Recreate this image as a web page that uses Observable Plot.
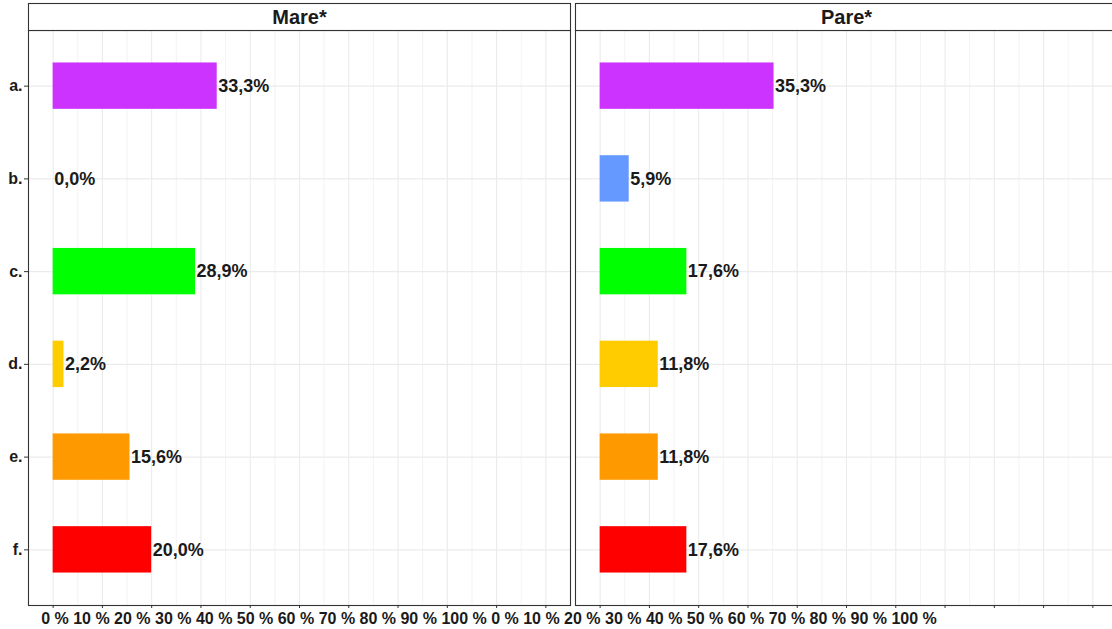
<!DOCTYPE html>
<html>
<head>
<meta charset="utf-8">
<script src="https://cdn.jsdelivr.net/npm/d3@7"></script>
<script src="https://cdn.jsdelivr.net/npm/@observablehq/plot@0.6"></script>
<style>
  html, body { margin: 0; padding: 0; background: #fff; overflow: hidden; }
  #chart { width: 1112px; height: 629px; overflow: hidden; }
  #chart svg { display: block; max-width: none !important; height: 629px !important; }
</style>
</head>
<body>
<div id="chart"></div>
<script>
// ---- data ----
const categories = ["a.", "b.", "c.", "d.", "e.", "f."];
const panels = ["Mare*", "Pare*"];
const mareValues = [33.3, 0.0, 28.9, 2.2, 15.6, 20.0];
const pareValues = [35.3, 5.9, 17.6, 11.8, 11.8, 17.6];
const barColors = ["#CC33FF", "#6699FF", "#00FF00", "#FFCC00", "#FF9900", "#FF0000"];
const xTicks = [0, 10, 20, 30, 40, 50, 60, 70, 80, 90, 100];
const xMinorTicks = [5, 15, 25, 35, 45, 55, 65, 75, 85, 95];
const xTickLabels = [
  "0 %", "10 %", "20 %", "30 %", "40 %", "50 %", "60 %", "70 %", "80 %", "90 %", "100 %",
  "0 %", "10 %", "20 %", "30 %", "40 %", "50 %", "60 %", "70 %", "80 %", "90 %", "100 %"
];

// table built from the arrays
const rows = [];
categories.forEach((c, i) => {
  rows.push({panel: panels[0], cat: c, value: mareValues[i], color: barColors[i]});
  rows.push({panel: panels[1], cat: c, value: pareValues[i], color: barColors[i]});
});
const fmt = v => v.toFixed(1).replace(".", ",") + "%";

const W = 1117, H = 629, MT = 30, MB = 24, ML = 28, MR = 0;
const panelH = H - MT - MB;
const ink = "#1a1a1a";
const grid = "#ebebeb";
const border = "#333333";

const chart = Plot.plot({
  width: W,
  height: H,
  marginTop: MT,
  marginBottom: MB,
  marginLeft: ML,
  marginRight: MR,
  style: {fontFamily: "'Liberation Sans', Arial, Helvetica, sans-serif", background: "#fff", color: ink, overflow: "visible"},
  fx: {domain: panels, paddingInner: 5 / 547, paddingOuter: 0, round: false, axis: null, label: null},
  x: {domain: [-5, 105], label: null},
  y: {domain: categories, paddingInner: 0.5, paddingOuter: 0.35, round: false, label: null},
  color: {type: "identity"},
  marks: [
    Plot.gridX(xMinorTicks, {stroke: grid, strokeOpacity: 1, strokeWidth: 0.6}),
    Plot.gridX(xTicks, {stroke: grid, strokeOpacity: 1, strokeWidth: 1.1}),
    Plot.gridY({stroke: grid, strokeOpacity: 1, strokeWidth: 1.1}),
    Plot.barX(rows, {fx: "panel", y: "cat", x1: 0, x2: "value", fill: "color"}),
    Plot.text(rows, {fx: "panel", y: "cat", x: "value", text: d => fmt(d.value),
      textAnchor: "start", dx: 1, fontSize: 18, fontWeight: "bold", fill: ink}),
    Plot.frame({stroke: border, strokeWidth: 1.1}),
    // facet strips
    Plot.frame({stroke: border, strokeWidth: 1.1, fill: "#fff", insetTop: -27, insetBottom: panelH}),
    Plot.text(panels, {fx: d => d, text: d => d, frameAnchor: "top", lineAnchor: "middle", dy: -13,
      fontSize: 20, fontWeight: "bold", fill: ink}),
    Plot.axisY({tickSize: 4, tickPadding: 2, fontSize: 16, fontWeight: "bold", color: ink, stroke: border, label: null}),
    Plot.axisX(xTicks, {tickSize: 3, stroke: border, tickFormat: () => "", label: null}),
    // x tick labels as they appear in the reference (run together along the bottom)
    Plot.text([xTickLabels.join(" ")], {fx: () => panels[0], x: () => xTicks[0], frameAnchor: "bottom",
      lineAnchor: "middle", textAnchor: "start", dx: -12, dy: 13, fontSize: 16, fontWeight: "bold", fill: ink})
  ]
});

document.getElementById("chart").appendChild(chart);
</script>
</body>
</html>
